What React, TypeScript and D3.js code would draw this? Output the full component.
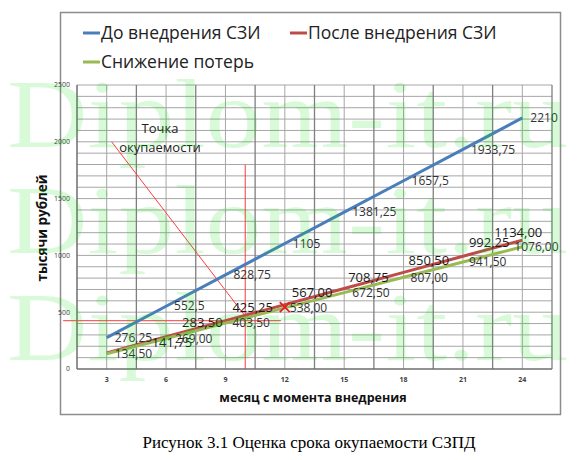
import React, { useRef, useEffect } from 'react';
import * as d3 from 'd3';

// months since implementation
const months = [3, 6, 9, 12, 15, 18, 21, 24];

// thousand rubles
const beforeValues = [276.25, 552.5, 828.75, 1105, 1381.25, 1657.5, 1933.75, 2210];
const afterValues = [141.75, 283.5, 425.25, 567.0, 708.75, 850.5, 992.25, 1134.0];
const reductionValues = [134.5, 269.0, 403.5, 538.0, 672.5, 807.0, 941.5, 1076.0];

const beforeLabels = ['276,25', '552,5', '828,75', '1105', '1381,25', '1657,5', '1933,75', '2210'];
const afterLabels = ['141,75', '283,50', '425,25', '567,00', '708,75', '850,50', '992,25', '1134,00'];
const reductionLabels = ['134,50', '269,00', '403,50', '538,00', '672,50', '807,00', '941,50', '1076,00'];

const seriesNames = ['До внедрения СЗИ', 'После внедрения СЗИ', 'Снижение потерь'];
const yTicks = [0, 500, 1000, 1500, 2000, 2500];

// payback point annotation
const paybackMonth = 10;
const paybackValue = 425.25;
const crossValue = 545;

const App: React.FC = () => {
  const svgRef = useRef<SVGSVGElement | null>(null);

  useEffect(() => {
    d3.select(svgRef.current).selectAll('*').remove();

    const svg = d3.select(svgRef.current)
      .attr('width', 580)
      .attr('height', 460)
      .style('background', '#fff');

    const font = '"Open Sans", "DejaVu Sans", sans-serif';

    const x = d3.scaleLinear().domain([1.5, 25.5]).range([77, 552]);
    const y = d3.scaleLinear().domain([0, 2500]).range([369, 85]);

    // chart frame
    svg.append('rect')
      .attr('x', 60.5).attr('y', 12.5)
      .attr('width', 500).attr('height', 402)
      .attr('fill', '#fff')
      .attr('stroke', '#8c8c8c')
      .attr('stroke-width', 1.5);

    // grid
    const grid = svg.append('g');
    grid.selectAll('.hgrid')
      .data(d3.range(100, 2501, 100))
      .enter()
      .append('line')
      .attr('x1', x(1.5)).attr('x2', x(25.5))
      .attr('y1', d => y(d)).attr('y2', d => y(d))
      .attr('stroke', '#a6a6a6')
      .attr('stroke-width', 1);

    grid.selectAll('.vgrid')
      .data(d3.range(3, 25.6, 1.5))
      .enter()
      .append('line')
      .attr('x1', d => x(d)).attr('x2', d => x(d))
      .attr('y1', y(0)).attr('y2', y(2500))
      .attr('stroke', d => ((d - 4.5) % 3 === 0 ? '#7f7f7f' : '#a6a6a6'))
      .attr('stroke-width', d => ((d - 4.5) % 3 === 0 ? 1.3 : 1));

    // axes
    svg.append('line')
      .attr('x1', x(1.5)).attr('x2', x(1.5))
      .attr('y1', y(0)).attr('y2', y(2500))
      .attr('stroke', '#6e6e6e').attr('stroke-width', 1.5);
    svg.append('line')
      .attr('x1', x(1.5)).attr('x2', x(25.5))
      .attr('y1', y(0)).attr('y2', y(0))
      .attr('stroke', '#6e6e6e').attr('stroke-width', 1.5);

    svg.selectAll('.ytick')
      .data(yTicks)
      .enter()
      .append('text')
      .attr('x', 70)
      .attr('y', d => y(d))
      .attr('dy', '0.35em')
      .attr('text-anchor', 'end')
      .attr('font-family', font)
      .attr('font-size', 7)
      .attr('fill', '#404040')
      .text(d => d);

    svg.selectAll('.xtick')
      .data(months)
      .enter()
      .append('text')
      .attr('x', d => x(d))
      .attr('y', 382)
      .attr('text-anchor', 'middle')
      .attr('font-family', font)
      .attr('font-size', 7)
      .attr('font-weight', 'bold')
      .attr('fill', '#404040')
      .text(d => d);

    // axis titles
    svg.append('text')
      .attr('transform', 'translate(47,228) rotate(-90)')
      .attr('text-anchor', 'middle')
      .attr('font-family', font)
      .attr('font-size', 13.5)
      .attr('font-weight', 'bold')
      .attr('fill', '#111')
      .text('тысячи рублей');

    svg.append('text')
      .attr('x', 313).attr('y', 402)
      .attr('text-anchor', 'middle')
      .attr('font-family', font)
      .attr('font-size', 12.5)
      .attr('font-weight', 'bold')
      .attr('fill', '#111')
      .text('месяц с момента внедрения');

    // annotation lines
    const red = '#ff3b3b';
    svg.append('line')
      .attr('x1', x(3.25)).attr('y1', y(2000))
      .attr('x2', x(paybackMonth)).attr('y2', y(465))
      .attr('stroke', red).attr('stroke-width', 1);
    svg.append('line')
      .attr('x1', x(paybackMonth)).attr('y1', y(465))
      .attr('x2', x(paybackMonth + 0.3)).attr('y2', y(455))
      .attr('stroke', red).attr('stroke-width', 1);
    svg.append('line')
      .attr('x1', x(paybackMonth)).attr('y1', y(1800))
      .attr('x2', x(paybackMonth)).attr('y2', y(0))
      .attr('stroke', red).attr('stroke-width', 1);
    svg.append('line')
      .attr('x1', x(0.8)).attr('y1', y(paybackValue))
      .attr('x2', x(11.8)).attr('y2', y(paybackValue))
      .attr('stroke', red).attr('stroke-width', 1);

    const note = svg.append('text')
      .attr('text-anchor', 'middle')
      .attr('font-family', font)
      .attr('font-size', 13)
      .attr('fill', '#222');
    note.append('tspan').attr('x', 160).attr('y', 133).text('Точка');
    note.append('tspan').attr('x', 160).attr('y', 152).text('окупаемости');

    // series
    const series = [
      { values: beforeValues, labels: beforeLabels, color: '#4a7ebb' },
      { values: afterValues, labels: afterLabels, color: '#be4b48' },
      { values: reductionValues, labels: reductionLabels, color: '#98b954' },
    ];

    const line = d3.line<number>()
      .x((_, i) => x(months[i]))
      .y(v => y(v));

    series.forEach(s => {
      svg.append('path')
        .datum(s.values)
        .attr('d', line)
        .attr('fill', 'none')
        .attr('stroke', s.color)
        .attr('stroke-width', 3);
    });

    // payback cross marker
    const cx = x(12);
    const cy = y(crossValue);
    svg.append('path')
      .attr('d', `M${cx - 5},${cy - 5}L${cx + 5},${cy + 5}M${cx - 5},${cy + 5}L${cx + 5},${cy - 5}`)
      .attr('stroke', '#e02020')
      .attr('stroke-width', 1.8);

    // data labels (manual offsets as placed in the original)
    const labelOffsets = [
      months.map(() => [8, 0]),
      [[45, -10], [16, -14], [7, -13], [7, -12], [4, -11], [5, -12], [6, -14], [-28, -8]],
      [[8, 0], [9, 0], [7, 0], [5, 0], [8, 0], [7, 0], [6, 0], [-8, 0]],
    ];
    const labelSizes = [12, 13, 12];

    series.forEach((s, si) => {
      svg.selectAll(`.lbl${si}`)
        .data(s.values)
        .enter()
        .append('text')
        .attr('x', (_, i) => x(months[i]) + labelOffsets[si][i][0])
        .attr('y', (v, i) => y(v) + labelOffsets[si][i][1])
        .attr('dy', '0.35em')
        .attr('font-family', font)
        .attr('font-size', labelSizes[si])
        .attr('fill', si === 1 ? '#1a1a1a' : '#333')
        .text((_, i) => s.labels[i]);
    });

    // legend
    const legendItems = [
      { x: 83, y: 33 },
      { x: 290, y: 33 },
      { x: 83, y: 62 },
    ];
    legendItems.forEach((p, i) => {
      svg.append('line')
        .attr('x1', p.x).attr('x2', p.x + 17)
        .attr('y1', p.y).attr('y2', p.y)
        .attr('stroke', series[i].color)
        .attr('stroke-width', 3);
      svg.append('text')
        .attr('x', p.x + 18)
        .attr('y', p.y)
        .attr('dy', '0.35em')
        .attr('font-family', font)
        .attr('font-size', 17.5)
        .attr('fill', '#222')
        .text(seriesNames[i]);
    });

    // watermark
    svg.selectAll('.wm')
      .data([147, 253, 360])
      .enter()
      .append('text')
      .attr('x', 7)
      .attr('y', d => d)
      .attr('textLength', 561)
      .attr('lengthAdjust', 'spacingAndGlyphs')
      .attr('font-family', '"Liberation Serif", "Times New Roman", serif')
      .attr('font-size', 98)
      .attr('fill', '#00dd00')
      .attr('fill-opacity', 0.15)
      .text('Diplom-it.ru');

    // caption
    svg.append('text')
      .attr('x', 309).attr('y', 448)
      .attr('text-anchor', 'middle')
      .attr('font-family', '"Liberation Serif", "Times New Roman", serif')
      .attr('font-size', 17)
      .attr('fill', '#000')
      .text('Рисунок 3.1 Оценка срока окупаемости СЗПД');
  }, []);

  return (
    <div>
      <svg ref={svgRef} style={{ position: 'absolute', left: 0, top: 0 }}></svg>
    </div>
  );
};

export default App;
